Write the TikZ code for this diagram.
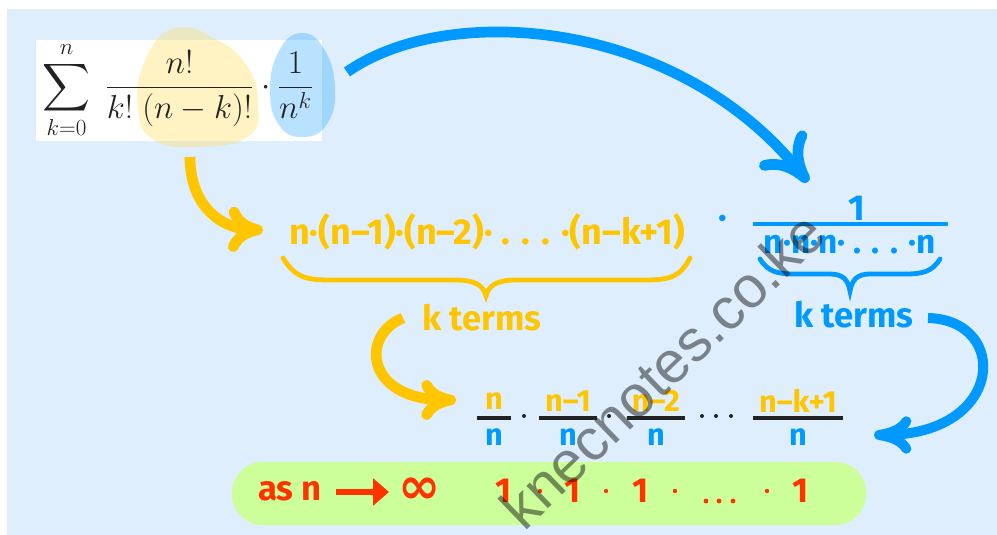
\documentclass[tikz,border=0pt]{standalone}
\usepackage{amsmath}
\usepackage{fontspec}
\setmainfont{Fira Sans}
\newfontfamily\markfont{Liberation Sans}
\newfontfamily\symbfont{DejaVu Sans}
\usetikzlibrary{arrows.meta}
\definecolor{pagebg}{HTML}{DEEEFC}
\definecolor{sunny}{HTML}{FFC600}
\definecolor{paleyellow}{HTML}{FFE066}
\definecolor{sky}{HTML}{0099FF}
\definecolor{flame}{HTML}{FF3300}
\definecolor{lime}{HTML}{CCFF99}
\definecolor{ink}{HTML}{222222}
\begin{document}
\begin{tikzpicture}[x=0.75pt,y=-0.75pt,
  lbl/.style={inner sep=0pt, font=\bfseries\fontsize{#1}{#1}\selectfont},
  lbl/.default=26,
  fracbar/.style={ink, line width=2.6pt},
  bracestroke/.style={line width=3.6pt, line cap=round},
  fatarrow/.style={line width=8pt}]
\useasboundingbox (0,0) rectangle (997,535);
\fill[white] (0,0) rectangle (997,535);
\fill[pagebg] (7,9) rectangle (997,535);

% the series in a white panel, with highlighted factors
\fill[white] (36,40) rectangle (322,141);
\fill[paleyellow, opacity=0.38] plot[smooth cycle, tension=0.8] coordinates
  {(176,28) (217,40) (247,66) (258,102) (249,136) (200,147) (154,140) (138,108) (146,58)};
\fill[sky, opacity=0.28] plot[smooth cycle, tension=0.8] coordinates
  {(301,33) (324,49) (335,88) (327,124) (303,137) (279,125) (270,90) (279,51)};
\node[text=ink, inner sep=0pt, font=\fontsize{24}{28}\selectfont] (series) at (178,90)
  {$\displaystyle\sum_{k=0}^{n}\;\frac{n!}{k!\;(n-k)!}\cdot\frac{1}{n^{k}}$};

% falling product and its brace
\node[lbl=27, text=sunny] (prod) at (487,232) {n·(n–1)·(n–2)· . . . ·(n–k+1)};
\draw[sunny, bracestroke] (283,258) .. controls (295,277) and (305,280) .. (330,280)
  -- (455,280) .. controls (475,280) and (483,285) .. (486,296)
  .. controls (489,285) and (497,280) .. (517,280) -- (645,280)
  .. controls (670,280) and (680,277) .. (690,258);
\node[lbl=26, text=sunny] (ktermsY) at (482,318) {k terms};

% the reciprocal power and its brace
\node[lbl=27, text=sky] (middot) at (723,222) {·};
\node[lbl=27, text=sky] (one) at (857,208) {1};
\draw[sky, line width=2.6pt] (753,224) -- (948,224);
\node[lbl=25, text=sky] (npow) at (850,245) {n·n·n· . . . ·n};
\draw[sky, bracestroke] (760,259) .. controls (768,272) and (778,274) .. (795,274)
  -- (830,274) .. controls (843,274) and (848,280) .. (850,291)
  .. controls (852,280) and (857,274) .. (870,274) -- (905,274)
  .. controls (922,274) and (932,272) .. (940,259);
\node[lbl=26, text=sky] (ktermsB) at (854,315) {k terms};

% product of quotients
\foreach \cx/\numtxt/\hw [count=\i] in {494/n/17, 568/n–1/29, 656/n–2/29, 798/n–k+1/45}{
  \node[lbl=23, text=sunny] (num\i) at (\cx,401) {\numtxt};
  \draw[fracbar] (\cx-\hw,418) -- (\cx+\hw,418);
  \node[lbl=23, text=sky] (den\i) at (\cx,437) {n};
}
\foreach \cx in {524,609}{\fill[ink] (\cx,416) circle (2);}
\foreach \cx in {702,716,731}{\fill[ink] (\cx,416) circle (2);}

% the limit
\fill[lime, rounded corners=23pt] (232,462) rectangle (866,525);
\node[lbl=26, text=flame] (asn) at (290,491) {as n};
\coordinate (limA) at (336,492);
\coordinate (limB) at (389,492);
\draw[flame, line width=4.5pt, -{Triangle[length=12pt,width=20pt]}] (limA) -- (limB);
\node[text=flame, inner sep=0pt, font=\symbfont\bfseries\fontsize{38}{38}\selectfont] (infty) at (420,491) {∞};
\foreach \cx in {504,573,641,801}{\node[lbl=26, text=flame] at (\cx,491) {1};}
\foreach \cx in {540,606,675,767}{\fill[flame] (\cx,491) circle (2.2);}
\foreach \cx in {706,719,733}{\fill[flame] (\cx,501) circle (2.4);}

% connecting arrows
\coordinate (b1s) at (347,72);
\coordinate (b1e) at (808,182);
\draw[sky, fatarrow, -{Computer Modern Rightarrow[length=34pt,width=44pt]}]
  (b1s) .. controls (450,0) and (680,20) .. (b1e);
\coordinate (y1s) at (190,157);
\coordinate (y1e) at (263,230);
\draw[sunny, fatarrow, -{Computer Modern Rightarrow[length=26pt,width=34pt]}]
  (y1s) .. controls (190,205) and (220,229) .. (y1e);
\coordinate (y2s) at (403,318);
\coordinate (y2e) at (456,400);
\draw[sunny, fatarrow, -{Computer Modern Rightarrow[length=26pt,width=30pt]}]
  (y2s) .. controls (360,335) and (365,400) .. (y2e);
\coordinate (b2s) at (928,318);
\coordinate (b2e) at (874,435);
\draw[sky, line width=7.5pt, -{Computer Modern Rightarrow[length=28pt,width=28pt]}]
  (b2s) .. controls (1010,320) and (1005,435) .. (b2e);

% site mark
\node[rotate=44, text=black, opacity=0.45, inner sep=0pt,
  font=\markfont\fontsize{44}{44}\selectfont] (mark) at (662,370) {knecnotes.co.ke};
\end{tikzpicture}
\end{document}
